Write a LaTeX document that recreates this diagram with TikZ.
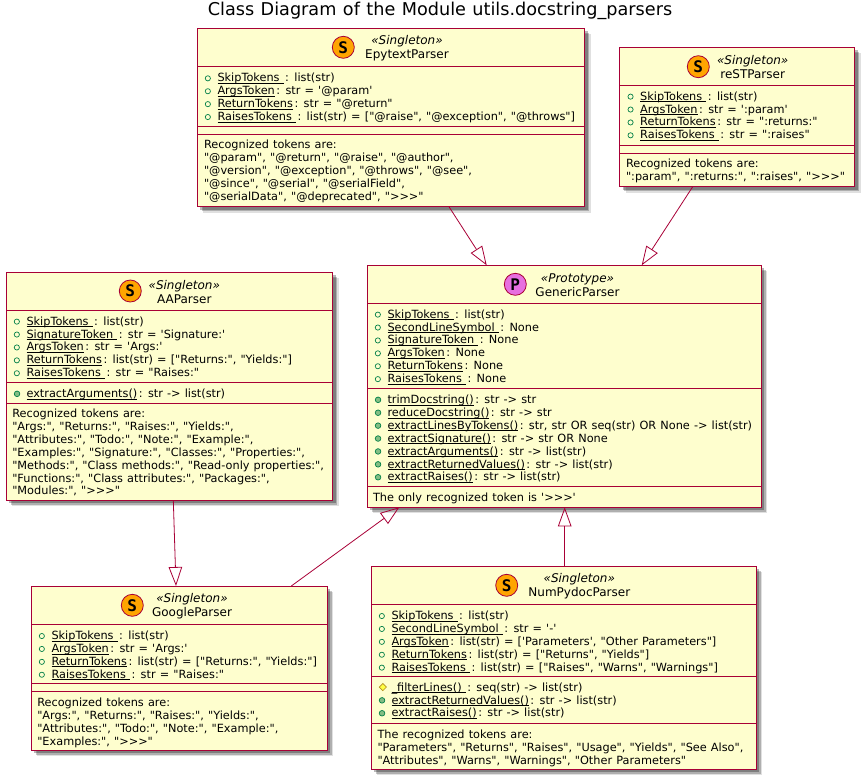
\documentclass[tikz,border=0pt]{standalone}
\usepackage{fontspec}
\setmainfont[Ligatures=TeXOff,WordSpace=1.15]{DejaVu Sans}
\newfontfamily\iconfont{DejaVu Sans Mono}
\usetikzlibrary{arrows.meta,shadows}

\definecolor{umlframe}{HTML}{A80036}
\definecolor{umlfill}{HTML}{FEFECE}
\definecolor{iconline}{HTML}{038048}
\definecolor{iconfill}{HTML}{84BE84}
\definecolor{protline}{HTML}{B38D22}
\definecolor{protfill}{HTML}{FFFF44}
\definecolor{orangefill}{HTML}{FFA500}
\definecolor{orchidfill}{HTML}{E76FE0}

% row icons, and underlined names with the line at a fixed height
\newcommand\fieldicon{\makebox[12.6pt][l]{\raisebox{.6pt}{\tikz\draw[iconline,line width=.7pt] (0,0) circle (2.6pt);}}}
\newcommand\methodicon{\makebox[12.6pt][l]{\raisebox{.6pt}{\tikz\draw[iconline,fill=iconfill,line width=.7pt] (0,0) circle (2.8pt);}}}
\newcommand\protecticon{\makebox[12.6pt][l]{\raisebox{.2pt}{\tikz\draw[protline,fill=protfill,line width=.7pt] (-3.6pt,0) -- (0,3.6pt) -- (3.6pt,0) -- (0,-3.6pt) -- cycle;}}}
\newcommand\ultext[1]{\setbox0\hbox{#1}\rlap{\rule[-1.9pt]{\wd0}{.8pt}}\box0\hspace{-2.6pt}}
\newcommand\stereo[1]{{\itshape «#1»}}

\begin{document}
\begin{tikzpicture}[
        x=1pt,y=-1pt,
        %Styles
        ClassBox/.style={
            draw=umlframe, fill=umlfill, line width=1pt,
            inner sep=0pt, outer sep=0pt,
            drop shadow={shadow xshift=6pt,shadow yshift=-6pt,opacity=.12,fill=black},
            drop shadow={shadow xshift=4.5pt,shadow yshift=-4.5pt,opacity=.22,fill=black},
            drop shadow={shadow xshift=3pt,shadow yshift=-3pt,opacity=.28,fill=black},
        },
        RowText/.style={
            anchor=north west, align=left, inner sep=0pt, outer sep=0pt,
            font=\fontsize{11.3}{12.9}\selectfont,
        },
        HeadText/.style={
            align=center, inner sep=0pt,
            font=\fontsize{12}{14}\selectfont,
        },
        Letter/.style={
            circle, draw=umlframe, line width=.8pt, minimum size=22pt, inner sep=0pt,
            font=\iconfont\bfseries\fontsize{16}{16}\selectfont,
        },
        Sep/.style={draw=umlframe, line width=1pt},
        Extends/.style={
            draw=umlframe, line width=.8pt,
            -{Triangle[open,length=19pt,width=13.5pt]},
        },
    ]
\useasboundingbox (0,0) rectangle (864,779);

\node[inner sep=0pt,font=\fontsize{17.65}{20}\selectfont] (title) at (440,10.5)
    {Class Diagram of the Module utils.docstring\_parsers};

%EpytextParser
\node[ClassBox, minimum width=387.4pt, minimum height=178.7pt] (epytext) at (391,117.4) {};
\foreach \y in {66,126,134.3}
  \draw[Sep] (epytext.west |- 0,\y) -- (epytext.east |- 0,\y);
\node[Letter, fill=orangefill] (epytextC) at (343.3,47.3) {S};
\node[HeadText] (epytextH) at (407,48.2) {\stereo{Singleton}\\EpytextParser};
\node[RowText] (epytextF) at (204.9,73.3) {%
    \fieldicon\ultext{SkipTokens\ } : list(str)\\
    \fieldicon\ultext{ArgsToken} : str = '@param'\\
    \fieldicon\ultext{ReturnTokens} : str = "@return"\\
    \fieldicon\ultext{RaisesTokens\ } : list(str) = ["@raise", "@exception", "@throws"]};
\node[RowText] (epytextN) at (204,140) {%
    Recognized tokens are:\\
    "@param", "@return", "@raise", "@author",\\
    "@version", "@exception", "@throws", "@see",\\
    "@since", "@serial", "@serialField",\\
    "@serialData", "@deprecated", ">>>"};

%reSTParser
\node[ClassBox, minimum width=234.7pt, minimum height=139.4pt] (rest) at (737.3,117) {};
\foreach \y in {85.3,145,153}
  \draw[Sep] (rest.west |- 0,\y) -- (rest.east |- 0,\y);
\node[Letter, fill=orangefill] (restC) at (698.3,66.7) {S};
\node[HeadText] (restH) at (752.7,67.3) {\stereo{Singleton}\\reSTParser};
\node[RowText] (restF) at (627.6,91.6) {%
    \fieldicon\ultext{SkipTokens\ } : list(str)\\
    \fieldicon\ultext{ArgsToken} : str = ':param'\\
    \fieldicon\ultext{ReturnTokens} : str = ":returns:"\\
    \fieldicon\ultext{RaisesTokens\ } : str = ":raises"};
\node[RowText] (restN) at (626,159) {%
    Recognized tokens are:\\
    ":param", ":returns:", ":raises", ">>>"};

%AAParser
\node[ClassBox, minimum width=326.4pt, minimum height=227.7pt] (aa) at (169.5,386.2) {};
\foreach \y in {310.3,382.3,403.3}
  \draw[Sep] (aa.west |- 0,\y) -- (aa.east |- 0,\y);
\node[Letter, fill=orangefill] (aaC) at (130.3,291) {S};
\node[HeadText] (aaH) at (184.3,292.3) {\stereo{Singleton}\\AAParser};
\node[RowText] (aaF) at (13.9,316.6) {%
    \fieldicon\ultext{SkipTokens\ } : list(str)\\
    \fieldicon\ultext{SignatureToken\ } : str = 'Signature:'\\
    \fieldicon\ultext{ArgsToken} : str = 'Args:'\\
    \fieldicon\ultext{ReturnTokens} : list(str) = ["Returns:", "Yields:"]\\
    \fieldicon\ultext{RaisesTokens\ } : str = "Raises:"};
\node[RowText] (aaM) at (13.9,389) {\methodicon\ultext{extractArguments()} : str -> list(str)};
\node[RowText] (aaN) at (12.3,409) {%
    Recognized tokens are:\\
    "Args:", "Returns:", "Raises:", "Yields:",\\
    "Attributes:", "Todo:", "Note:", "Example:",\\
    "Examples:", "Signature:", "Classes:", "Properties:",\\
    "Methods:", "Class methods:", "Read-only properties:",\\
    "Functions:", "Class attributes:", "Packages:",\\
    "Modules:", ">>>"};

%GenericParser
\node[ClassBox, minimum width=393.7pt, minimum height=242pt] (generic) at (564.2,386.3) {};
\foreach \y in {303.3,388,486.3}
  \draw[Sep] (generic.west |- 0,\y) -- (generic.east |- 0,\y);
\node[Letter, fill=orchidfill] (genericC) at (515.3,284.3) {P};
\node[HeadText] (genericH) at (577.5,285.2) {\stereo{Prototype}\\GenericParser};
\node[RowText] (genericF) at (374.9,309.6) {%
    \fieldicon\ultext{SkipTokens\ } : list(str)\\
    \fieldicon\ultext{SecondLineSymbol\ } : None\\
    \fieldicon\ultext{SignatureToken\ } : None\\
    \fieldicon\ultext{ArgsToken} : None\\
    \fieldicon\ultext{ReturnTokens} : None\\
    \fieldicon\ultext{RaisesTokens\ } : None};
\node[RowText] (genericM) at (374.9,395) {%
    \methodicon\ultext{trimDocstring()} : str -> str\\
    \methodicon\ultext{reduceDocstring()} : str -> str\\
    \methodicon\ultext{extractLinesByTokens()} : str, str OR seq(str) OR None -> list(str)\\
    \methodicon\ultext{extractSignature()} : str -> str OR None\\
    \methodicon\ultext{extractArguments()} : str -> list(str)\\
    \methodicon\ultext{extractReturnedValues()} : str -> list(str)\\
    \methodicon\ultext{extractRaises()} : str -> list(str)};
\node[RowText] (genericN) at (373,493) {The only recognized token is '>>>'};

%GoogleParser
\node[ClassBox, minimum width=296pt, minimum height=164pt] (google) at (179.3,668) {};
\foreach \y in {624.3,683.3,691.3}
  \draw[Sep] (google.west |- 0,\y) -- (google.east |- 0,\y);
\node[Letter, fill=orangefill] (googleC) at (132.3,605.3) {S};
\node[HeadText] (googleH) at (192,606.2) {\stereo{Singleton}\\GoogleParser};
\node[RowText] (googleF) at (38.9,631) {%
    \fieldicon\ultext{SkipTokens\ } : list(str)\\
    \fieldicon\ultext{ArgsToken} : str = 'Args:'\\
    \fieldicon\ultext{ReturnTokens} : list(str) = ["Returns:", "Yields:"]\\
    \fieldicon\ultext{RaisesTokens\ } : str = "Raises:"};
\node[RowText] (googleN) at (37.3,698.3) {%
    Recognized tokens are:\\
    "Args:", "Returns:", "Raises:", "Yields:",\\
    "Attributes:", "Todo:", "Note:", "Example:",\\
    "Examples:", ">>>"};

%NumPydocParser
\node[ClassBox, minimum width=385pt, minimum height=203pt] (numpy) at (563.8,667.8) {};
\foreach \y in {604.3,676.3,723.3}
  \draw[Sep] (numpy.west |- 0,\y) -- (numpy.east |- 0,\y);
\node[Letter, fill=orangefill] (numpyC) at (506.7,585.3) {S};
\node[HeadText] (numpyH) at (579.3,586) {\stereo{Singleton}\\NumPydocParser};
\node[RowText] (numpyF) at (378.9,611) {%
    \fieldicon\ultext{SkipTokens\ } : list(str)\\
    \fieldicon\ultext{SecondLineSymbol\ } : str = '-'\\
    \fieldicon\ultext{ArgsToken} : list(str) = ['Parameters', "Other Parameters"]\\
    \fieldicon\ultext{ReturnTokens} : list(str) = ["Returns", "Yields"]\\
    \fieldicon\ultext{RaisesTokens\ } : list(str) = ["Raises", "Warns", "Warnings"]};
\node[RowText] (numpyM) at (378.9,682.6) {%
    \protecticon\ultext{\_filterLines()\ } : seq(str) -> list(str)\\
    \methodicon\ultext{extractReturnedValues()} : str -> list(str)\\
    \methodicon\ultext{extractRaises()} : str -> list(str)};
\node[RowText] (numpyN) at (377.5,730) {%
    The recognized tokens are:\\
    "Parameters", "Returns", "Raises", "Usage", "Yields", "See Also",\\
    "Attributes", "Warns", "Warnings", "Other Parameters"};

%inheritance
\draw[Extends] ([xshift=58pt]epytext.south) -- ([xshift=-77.5pt]generic.north);
\draw[Extends] ([xshift=-44.6pt]rest.south) -- ([xshift=77.5pt]generic.north);
\draw[Extends] ([xshift=3.8pt]aa.south) -- ([xshift=-3.3pt]google.north);
\draw[Extends] ([xshift=112pt]google.north) -- ([xshift=-164.9pt]generic.south);
\draw[Extends] ([xshift=.9pt]numpy.north) -- ([xshift=.5pt]generic.south);

\end{tikzpicture}
\end{document}
